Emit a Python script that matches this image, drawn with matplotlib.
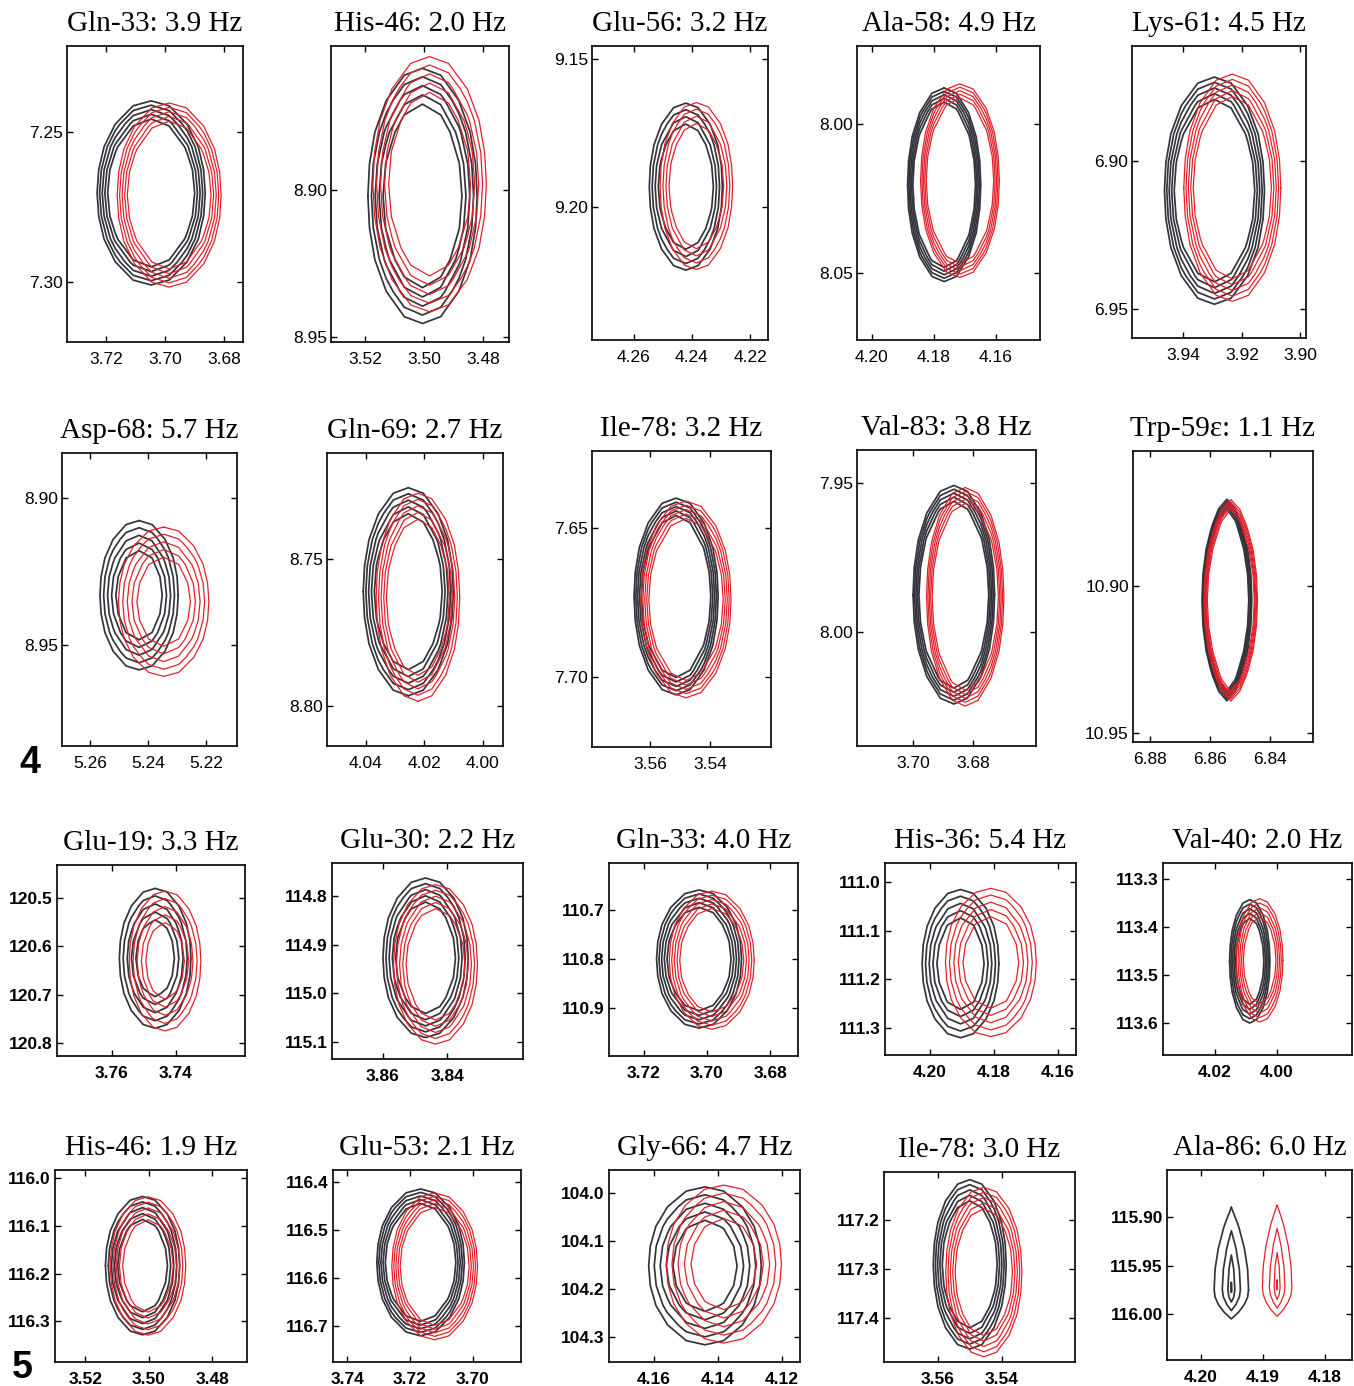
import numpy as np
import matplotlib
matplotlib.use("Agg")
import matplotlib.pyplot as plt
from matplotlib.ticker import FormatStrFormatter

plt.rcParams["font.family"] = ["Liberation Sans", "DejaVu Sans"]

W, H = 1354, 1386

# ---- data ----------------------------------------------------------------
titles = ["Gln-33: 3.9 Hz", "His-46: 2.0 Hz", "Glu-56: 3.2 Hz", "Ala-58: 4.9 Hz",
          "Lys-61: 4.5 Hz", "Asp-68: 5.7 Hz", "Gln-69: 2.7 Hz", "Ile-78: 3.2 Hz",
          "Val-83: 3.8 Hz", "Trp-59\u03b5: 1.1 Hz", "Glu-19: 3.3 Hz", "Glu-30: 2.2 Hz",
          "Gln-33: 4.0 Hz", "His-36: 5.4 Hz", "Val-40: 2.0 Hz", "His-46: 1.9 Hz",
          "Glu-53: 2.1 Hz", "Gly-66: 4.7 Hz", "Ile-78: 3.0 Hz", "Ala-86: 6.0 Hz"]

x_ticks = [[3.72, 3.70, 3.68], [3.52, 3.50, 3.48], [4.26, 4.24, 4.22],
           [4.20, 4.18, 4.16], [3.94, 3.92, 3.90], [5.26, 5.24, 5.22],
           [4.04, 4.02, 4.00], [3.56, 3.54], [3.70, 3.68], [6.88, 6.86, 6.84],
           [3.76, 3.74], [3.86, 3.84], [3.72, 3.70, 3.68], [4.20, 4.18, 4.16],
           [4.02, 4.00], [3.52, 3.50, 3.48], [3.74, 3.72, 3.70],
           [4.16, 4.14, 4.12], [3.56, 3.54], [4.20, 4.19, 4.18]]

y_ticks = [[7.25, 7.30], [8.90, 8.95], [9.15, 9.20], [8.00, 8.05], [6.90, 6.95],
           [8.90, 8.95], [8.75, 8.80], [7.65, 7.70], [7.95, 8.00], [10.90, 10.95],
           [120.5, 120.6, 120.7, 120.8], [114.8, 114.9, 115.0, 115.1],
           [110.7, 110.8, 110.9], [111.0, 111.1, 111.2, 111.3],
           [113.3, 113.4, 113.5, 113.6], [116.0, 116.1, 116.2, 116.3],
           [116.4, 116.5, 116.6, 116.7], [104.0, 104.1, 104.2, 104.3],
           [117.2, 117.3, 117.4], [115.90, 115.95, 116.00]]

y_decimals = [2] * 10 + [1] * 9 + [2]

# ppm window of each frame: (left, right) and (top, bottom)
x_lims = [(3.7332, 3.6736), (3.5315, 3.4712), (4.2742, 4.2140), (4.2048, 4.1458),
          (3.9576, 3.8981), (5.2697, 5.2093), (4.0532, 3.9930), (3.5793, 3.5197),
          (3.7187, 3.6590), (6.8857, 6.8257), (3.7772, 3.7184), (3.8759, 3.8163),
          (3.7309, 3.6713), (4.2141, 4.1544), (4.0368, 3.9758), (3.5296, 3.4691),
          (3.7446, 3.6845), (4.1741, 4.1144), (3.5769, 3.5172), (4.2055, 4.1756)]
y_lims = [(7.2213, 7.3200), (8.8510, 8.9517), (9.1456, 9.2449), (7.9738, 8.0725),
          (6.8611, 6.9598), (8.8847, 8.9844), (8.7139, 8.8136), (7.6242, 7.7235),
          (7.9389, 8.0383), (10.8541, 10.9531), (120.432, 120.826),
          (114.732, 115.135), (110.604, 110.998), (110.961, 111.356),
          (113.267, 113.667), (115.983, 116.385), (116.375, 116.775),
          (103.952, 104.352), (117.102, 117.490), (115.8515, 116.0474)]

# peak positions (ppm) of the two spectra
black_x = [3.7047, 3.5005, 4.2421, 4.1767, 3.9294, 5.2431, 4.0254, 3.5513, 3.6864,
           6.8544, 3.7465, 3.8467, 3.7025, 4.1905, 4.0088, 3.5020, 3.7166, 4.1441,
           3.5501, 4.1951]
red_x = [3.6986, 3.4981, 4.2385, 4.1716, 3.9233, 5.2346, 4.0221, 3.5480, 3.6826,
         6.8531, 3.7434, 3.8436, 3.6985, 4.1810, 4.0056, 3.5003, 3.7121, 4.1382,
         3.5457, 4.1877]
black_y = [7.2703, 8.9020, 9.1931, 8.0204, 6.9100, 8.9331, 8.7611, 7.6730, 7.9875,
           10.9048, 120.6245, 114.9268, 110.8000, 111.1680, 113.4719, 116.1832,
           116.5675, 104.1517, 117.2906, 115.9750]
red_y = [7.2710, 8.8980, 9.1929, 8.0190, 6.9090, 8.9353, 8.7630, 7.6740, 7.9882,
         10.9049, 120.6300, 114.9404, 110.8024, 111.1656, 113.4698, 116.1839,
         116.5757, 104.1480, 117.3063, 115.9724]

# half extent of the lowest contour
black_hw = [0.0183, 0.0185, 0.0125, 0.0118, 0.0171, 0.0135, 0.0154, 0.0140, 0.0136,
            0.0083, 0.0112, 0.0133, 0.0134, 0.0120, 0.0065, 0.0117, 0.0140, 0.0176,
            0.0114, 0.00278]
red_hw = [0.0176, 0.0192, 0.0124, 0.0127, 0.0166, 0.0156, 0.0143, 0.0150, 0.0129,
          0.0089, 0.0112, 0.0131, 0.0134, 0.0142, 0.0075, 0.0119, 0.0137, 0.0180,
          0.0119, 0.00238]
half_up = [0.0307, 0.0434, 0.0282, 0.0325, 0.0384, 0.0254, 0.0354, 0.0330, 0.0367,
           0.0343, 0.1443, 0.1640, 0.1410, 0.1525, 0.1285, 0.1448, 0.1530, 0.1645,
           0.1730, 0.0850]
half_dn = [0.0307, 0.0434, 0.0282, 0.0325, 0.0384, 0.0254, 0.0354, 0.0330, 0.0367,
           0.0343, 0.1443, 0.1640, 0.1410, 0.1525, 0.1285, 0.1448, 0.1530, 0.1645,
           0.1730, 0.0300]

# innermost / outermost contour size, number of contour levels, lineshape power
inner_ratio = [0.80, 0.72, 0.75, 0.85, 0.80, 0.60, 0.75, 0.82, 0.85, 0.90,
               0.55, 0.70, 0.75, 0.62, 0.70, 0.67, 0.80, 0.58, 0.75, 0.15]
n_levels = [5, 5, 4, 5, 5, 5, 5, 5, 5, 5, 5, 5, 5, 5, 5, 5, 5, 5, 5, 4]
x_power = [2, 2, 2, 2, 2, 2, 2, 2, 2, 1.5, 2, 2, 2, 2, 2, 2, 2, 2, 2, 1.0]

# ---- layout: frame boxes in pixels (left, top, right, bottom) -------------
boxes = [(67, 46, 243, 342), (331, 46, 509, 342), (592, 46, 768, 340),
         (857, 46, 1040, 340), (1132, 46, 1306, 338),
         (62, 453, 237, 746), (327, 453, 503, 746), (592, 451, 771, 747),
         (857, 450, 1036, 746), (1133, 451, 1313, 742),
         (57, 865, 245, 1056), (332, 863, 523, 1059), (609, 863, 798, 1056),
         (885, 863, 1076, 1055), (1163, 863, 1352, 1055),
         (55, 1170, 247, 1362), (333, 1170, 521, 1362), (609, 1170, 800, 1362),
         (884, 1172, 1075, 1362), (1167, 1170, 1352, 1360)]

BLACK = "#34343c"
RED = "#e3202a"


def draw_peak(ax, cx, cy, hw, up, dn, ratio, n, p, color, lw):
    # coarse digital grid, like a processed 2D spectrum
    xs = cx + hw * np.arange(-7, 8) / 3.0
    ys = np.concatenate([cy - up * np.arange(10, 0, -1) / 4.0, [cy],
                         cy + dn * np.arange(1, 11) / 4.0])
    X, Y = np.meshgrid(xs, ys)
    u = np.abs(X - cx) / hw
    v = np.where(Y < cy, (cy - Y) / up, (Y - cy) / dn)
    Z = np.exp(-(u ** p + v ** 2))
    levels = np.exp(-np.linspace(1.0, ratio, n) ** 2)
    ax.contour(X, Y, Z, levels=levels, colors=color, linewidths=lw)


fig = plt.figure(figsize=(W / 100, H / 100), dpi=100)

for i in range(20):
    l, t, r, b = boxes[i]
    ax = fig.add_axes([l / W, 1 - b / H, (r - l) / W, (b - t) / H])

    draw_peak(ax, black_x[i], black_y[i], black_hw[i], half_up[i], half_dn[i],
              inner_ratio[i], n_levels[i], x_power[i], BLACK, 1.25)
    draw_peak(ax, red_x[i], red_y[i], red_hw[i], half_up[i], half_dn[i],
              inner_ratio[i], n_levels[i], x_power[i], RED, 0.9)

    ax.set_xlim(x_lims[i][0], x_lims[i][1])
    ax.set_ylim(y_lims[i][1], y_lims[i][0])
    ax.set_xticks(x_ticks[i])
    ax.set_yticks(y_ticks[i])
    ax.xaxis.set_major_formatter(FormatStrFormatter("%.2f"))
    ax.yaxis.set_major_formatter(FormatStrFormatter("%%.%df" % y_decimals[i]))

    bold = "bold" if i >= 10 else "normal"
    ax.tick_params(direction="in", top=True, right=True, length=4, width=1,
                   labelsize=12.5)
    ax.tick_params(axis="x", pad=7)
    ax.tick_params(axis="y", pad=3)
    for lab in ax.get_xticklabels() + ax.get_yticklabels():
        lab.set_fontweight(bold)
    for s in ax.spines.values():
        s.set_linewidth(1.2)

    ax.set_title(titles[i], fontsize=21, family="Liberation Serif", pad=11)

fig.text(30 / W, 1 - 763 / H, "4", fontsize=27, fontweight="bold",
         ha="center", va="center")
fig.text(22 / W, 1 - 1368 / H, "5", fontsize=27, fontweight="bold",
         ha="center", va="center")

fig.savefig("out.png", dpi=100, facecolor="white")
